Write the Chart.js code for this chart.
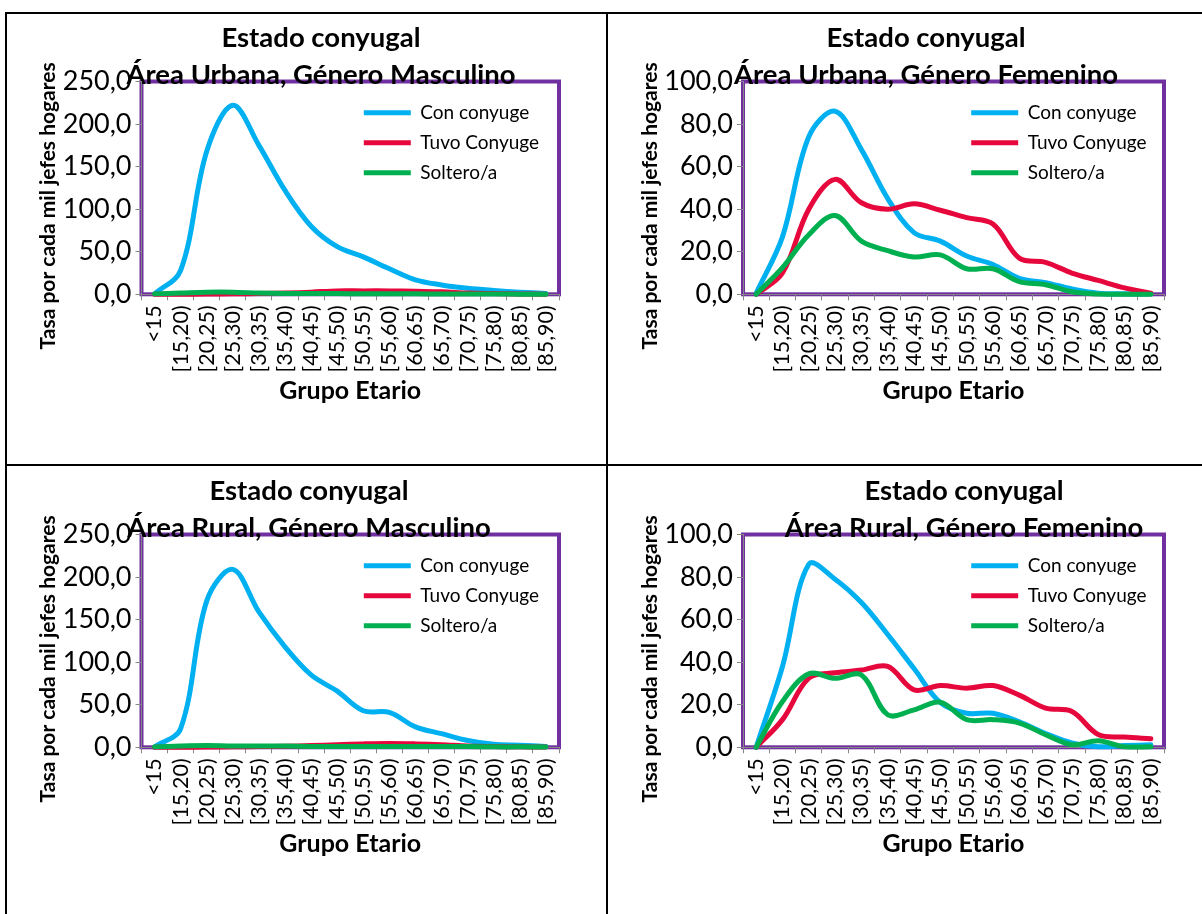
<!DOCTYPE html>
<html><head><meta charset="utf-8">
<script src="https://cdn.jsdelivr.net/npm/chart.js@4.4.1/dist/chart.umd.min.js"></script>
<style>
html,body{margin:0;padding:0;background:#fff;}
body{width:1202px;height:914px;position:relative;overflow:hidden;}
.ln{position:absolute;background:#000;}
canvas{position:absolute;}
</style></head><body>
<div class="ln" style="left:5px;top:12px;width:1197px;height:2px"></div>
<div class="ln" style="left:5px;top:12px;width:2px;height:902px"></div>
<div class="ln" style="left:606px;top:12px;width:2px;height:902px"></div>
<div class="ln" style="left:5px;top:464px;width:1197px;height:2px"></div>
<canvas id="c1" width="642" height="450" style="left:0px;top:0px"></canvas>
<canvas id="c2" width="648" height="450" style="left:602px;top:0px"></canvas>
<canvas id="c3" width="618" height="450" style="left:0px;top:453px"></canvas>
<canvas id="c4" width="724" height="450" style="left:602px;top:453px"></canvas>
<script>
// ---- data ----
const categories = ['<15','[15,20)','[20,25)','[25,30)','[30,35)','[35,40)','[40,45)','[45,50)','[50,55)','[55,60)','[60,65)','[65,70)','[70,75)','[75,80)','[80,85)','[85,90)'];
const seriesNames = ['Con conyuge', 'Tuvo Conyuge', 'Soltero/a'];
const mainTitle = 'Estado conyugal';
const subTitles = ['Área Urbana, Género Masculino', 'Área Urbana, Género Femenino', 'Área Rural, Género Masculino', 'Área Rural, Género Femenino'];
const yAxisTitle = 'Tasa por cada mil jefes hogares';
const xAxisTitle = 'Grupo Etario';

const urbanaMascCon     = [0.5, 28, 168, 222, 175, 122, 80, 56, 44, 30, 17, 11, 7, 4.5, 2.5, 1];
const urbanaMascTuvo    = [0, 0, 0.3, 0.5, 1, 1.5, 2.5, 4, 4, 4, 3.5, 3, 1.5, 0.8, 0.3, 0.2];
const urbanaMascSoltero = [0.5, 1.5, 2.5, 2.5, 1.5, 1, 1, 0.8, 0.6, 0.5, 0.5, 0.4, 0.3, 0.3, 0.2, 0.2];

const urbanaFemCon      = [0.5, 27, 74, 86, 68, 45, 29, 25, 18, 14, 7.5, 5.5, 2.5, 0.5, 0.2, 0.2];
const urbanaFemTuvo     = [0, 10, 40, 54, 43, 40, 42.5, 39.5, 36, 33, 17, 15, 10, 6.5, 3, 0.5];
const urbanaFemSoltero  = [0, 12.5, 28, 37, 25, 20.5, 17.5, 18.5, 12, 12, 6, 4.5, 1.2, 0.1, 0, 0];

const ruralMascCon      = [0.5, 22, 172, 209, 159, 118, 85, 66, 43, 41, 24, 16, 8, 3.5, 2.5, 1];
const ruralMascTuvo     = [0, 0, 0.3, 0.5, 0.8, 1.2, 2, 3, 4, 4.5, 4, 3, 1.5, 0.8, 0.5, 0.3];
const ruralMascSoltero  = [0.5, 1.5, 2, 1.5, 1.5, 1.5, 1, 1, 1, 1, 1, 0.8, 0.8, 0.5, 0.5, 0.3];

const ruralFemCon       = [0, 38, 86, 79, 68, 53, 37, 21, 16, 16, 12, 6.5, 2, 0.3, 0.8, 1.2];
const ruralFemTuvo      = [0, 13, 32.5, 35, 36.3, 38, 27, 29, 27.8, 29, 24.5, 18.4, 16.8, 6, 4.8, 4];
const ruralFemSoltero   = [0, 21.5, 34.5, 32.4, 34, 15.3, 17.6, 21.2, 13, 13, 11.4, 5.9, 1.2, 3.1, 0.2, 0.2];

const seriesColors = ['#00B0F0', '#E6083C', '#00B050'];

// ---- style ----
const FONT = 'Lato';
const AXIS_GRAY = '#868686';
const PURPLE = '#7030A0';

const fixPlugin = {
  id: 'fixLayout',
  beforeDraw(chart, args, o) {
    const ca = chart.chartArea, ctx = chart.ctx;
    ctx.save();
    ctx.strokeStyle = PURPLE;
    ctx.lineWidth = 4;
    ctx.strokeRect(ca.left, ca.top, ca.right - ca.left, ca.bottom - ca.top);
    ctx.restore();
  },
  afterLayout(chart, args, o) {
    const ca = chart.chartArea;
    const lg = chart.legend;
    if (lg) {
      lg.left = ca.left + o.legendDx;
      lg.top = ca.top + o.legendDy;
      lg.right = ca.right;
      lg.bottom = ca.bottom;
    }
    const ys = chart.scales.y;
    if (ys && !ys._titleShift) {
      const orig = ys.drawTitle;
      ys.drawTitle = function (...a) {
        const t = this.top, b = this.bottom;
        this.top += o.yTitleDy; this.bottom += o.yTitleDy;
        orig.apply(this, a);
        this.top = t; this.bottom = b;
      };
      ys._titleShift = true;
    }
  }
};

function fmt(v) { return v.toFixed(1).replace('.', ','); }

function makeChart(id, subTitle, values, yMax, yStep, geom) {
  const H = 450, chartBottom = 294.3;
  new Chart(document.getElementById(id), {
    type: 'line',
    data: {
      labels: categories,
      datasets: values.map((vals, i) => ({
        label: seriesNames[i],
        data: vals,
        borderColor: seriesColors[i],
        backgroundColor: seriesColors[i],
        borderWidth: 5,
        borderCapStyle: 'round',
        borderJoinStyle: 'round',
        pointRadius: 0,
        tension: 0.35,
        fill: false,
        clip: false
      })).reverse()
    },
    options: {
      responsive: false,
      animation: false,
      devicePixelRatio: 1,
      events: [],
      layout: { padding: 0 },
      plugins: {
        fixLayout: { legendDx: geom.legendDx, legendDy: 10.8, yTitleDy: 18 },
        title: {
          display: true, text: mainTitle, color: '#000',
          font: { family: FONT, size: 27.5, weight: 'bold', lineHeight: 1.2 },
          padding: { top: 21.5, bottom: 0 }
        },
        subtitle: {
          display: true, text: subTitle, color: '#000',
          font: { family: FONT, size: 27.5, weight: 'bold', lineHeight: 1.2 },
          padding: { top: 4.3, bottom: -10.3 }
        },
        legend: {
          position: 'chartArea',
          align: 'start',
          reverse: true,
          labels: {
            usePointStyle: true, pointStyle: 'line', pointStyleWidth: 47,
            color: '#000', padding: 11,
            font: { family: FONT, size: 19 }
          }
        },
        tooltip: { enabled: false }
      },
      scales: {
        x: {
          type: 'category',
          offset: true,
          grid: { offset: true, drawOnChartArea: false, drawTicks: true, tickLength: 6, color: AXIS_GRAY, lineWidth: 1 },
          border: { display: true, color: AXIS_GRAY, width: 1 },
          ticks: { autoSkip: false, maxRotation: 90, minRotation: 90, padding: 5, color: '#000', font: { family: FONT, size: 21.5 } },
          title: { display: true, text: xAxisTitle, color: '#000', font: { family: FONT, size: 25, weight: 'bold', lineHeight: 1.2 }, padding: { top: 0, bottom: 44 } },
          afterFit(s) { s.height = H - chartBottom; }
        },
        y: {
          position: 'left',
          min: 0, max: yMax,
          grid: { drawOnChartArea: false, drawTicks: true, tickLength: 6, color: AXIS_GRAY, lineWidth: 1 },
          border: { display: true, color: AXIS_GRAY, width: 1 },
          ticks: { stepSize: yStep, padding: 4, color: '#000', font: { family: FONT, size: 27 }, callback: (v) => fmt(v) },
          title: { display: true, text: yAxisTitle, color: '#000', font: { family: FONT, size: 21, weight: 'bold', lineHeight: 1.2 }, padding: { top: 35.4, bottom: 0 } },
          afterFit(s) { s.width = geom.yWidth; }
        },
        y2: {
          position: 'right',
          display: true,
          grid: { display: false },
          border: { display: false },
          ticks: { display: false },
          afterFit(s) { s.width = geom.rightWidth; }
        }
      }
    },
    plugins: [fixPlugin]
  });
}

makeChart('c1', subTitles[0], [urbanaMascCon, urbanaMascTuvo, urbanaMascSoltero], 250, 50, { yWidth: 141.5, rightWidth: 83, legendDx: 211.3 });
makeChart('c2', subTitles[1], [urbanaFemCon, urbanaFemTuvo, urbanaFemSoltero], 100, 20, { yWidth: 141, rightWidth: 86, legendDx: 217.2 });
makeChart('c3', subTitles[2], [ruralMascCon, ruralMascTuvo, ruralMascSoltero], 250, 50, { yWidth: 141.5, rightWidth: 59, legendDx: 211.3 });
makeChart('c4', subTitles[3], [ruralFemCon, ruralFemTuvo, ruralFemSoltero], 100, 20, { yWidth: 141, rightWidth: 162, legendDx: 217.2 });
</script>
</body></html>
